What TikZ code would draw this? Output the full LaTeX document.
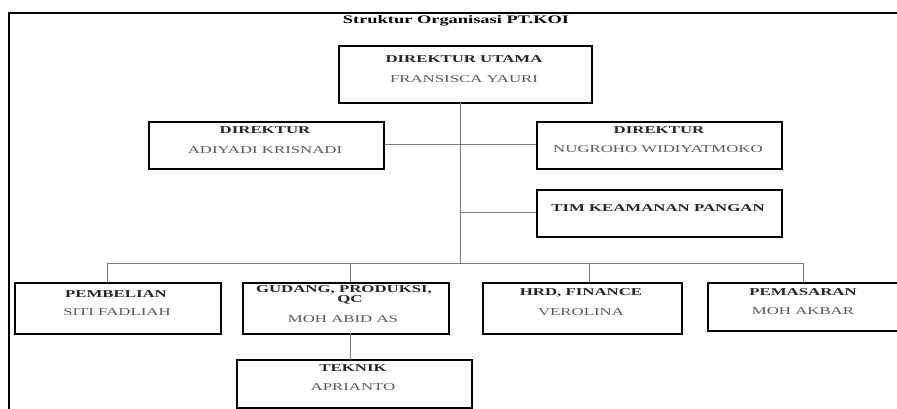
\documentclass[tikz,border=0pt]{standalone}
\usepackage{fontspec}
\newfontfamily\orgfont[FakeStretch=1.6]{Liberation Serif}
\definecolor{namegray}{HTML}{5A5A5A}
\definecolor{linegray}{HTML}{7A7A7A}
\tikzset{
  orgbox/.style={draw=black, line width=2pt, fill=white, anchor=north west, inner sep=0pt},
  headtxt/.style={font=\orgfont\fontsize{10.5}{12}\selectfont\bfseries, text=black!85, inner sep=0pt},
  nametxt/.style={font=\orgfont\fontsize{10.5}{12}\selectfont, text=namegray, inner sep=0pt},
  conn/.style={draw=linegray, line width=1pt},
}
\begin{document}
\begin{tikzpicture}[x=1pt,y=-1pt]
\useasboundingbox (0,0) rectangle (897,409);
\clip (0,0) rectangle (897,409);
\fill[white] (0,0) rectangle (897,409);
% outer frame (cropped at right and bottom)
\draw[line width=2pt] (9,430) -- (9,13) -- (920,13);
% title
\node[font=\orgfont\fontsize{11.5}{13}\selectfont\bfseries, inner sep=0pt] (title) at (456,21) {Struktur Organisasi PT.KOI};

\coordinate (trunktop) at (460,102);
\coordinate (trunk) at (460,263);
\coordinate (busL) at (107,263);
\coordinate (busR) at (803,263);

% boxes
\node[orgbox, minimum width=253pt, minimum height=57pt] (du) at (338,45) {};
\node[orgbox, minimum width=235pt, minimum height=47pt] (dl) at (148,121) {};
\node[orgbox, minimum width=245pt, minimum height=47pt] (dr) at (536,121) {};
\node[orgbox, minimum width=245pt, minimum height=47pt] (tim) at (536,189) {};
\node[orgbox, minimum width=206pt, minimum height=51pt] (pb) at (14,282) {};
\node[orgbox, minimum width=206pt, minimum height=51pt] (gd) at (242,282) {};
\node[orgbox, minimum width=199pt, minimum height=51pt] (hrd) at (482,282) {};
\node[orgbox, minimum width=193pt, minimum height=48pt] (pm) at (707,282) {};
\node[orgbox, minimum width=235pt, minimum height=48pt] (tk) at (236,359) {};

% connectors
\draw[conn] (trunktop) -- (trunk);
\draw[conn] (dl.east |- 0,145) -- (dr.west |- 0,145);
\draw[conn] (trunk |- 0,212) -- (tim.west |- 0,212);
\draw[conn] (busL) -- (busR);
\draw[conn] (busL) -- (busL |- pb.north);
\draw[conn] (350,263) -- (350,282);
\draw[conn] (589,263) -- (589,282);
\draw[conn] (busR) -- (busR |- pm.north);
\draw[conn] (350,333) -- (350,359);

% texts
\node[headtxt] (duh) at (464,59) {DIREKTUR UTAMA};
\node[nametxt] (dun) at (464,79) {FRANSISCA YAURI};
\node[headtxt] (dlh) at (265,130) {DIREKTUR};
\node[nametxt] (dln) at (265,150) {ADIYADI KRISNADI};
\node[headtxt] (drh) at (659,130) {DIREKTUR};
\node[nametxt] (drn) at (658,149) {NUGROHO WIDIYATMOKO};
\node[headtxt] (timh) at (658,208) {TIM KEAMANAN PANGAN};
\node[headtxt] (pbh) at (116,294) {PEMBELIAN};
\node[nametxt] (pbn) at (117,312) {SITI FADLIAH};
\node[headtxt] (gdh) at (344,290) {GUDANG, PRODUKSI,};
\node[headtxt] (gdq) at (350,300) {QC};
\node[nametxt] (gdn) at (343,319) {MOH ABID AS};
\node[headtxt] (hrdh) at (581,293) {HRD, FINANCE};
\node[nametxt] (hrdn) at (581,312) {VEROLINA};
\node[headtxt] (pmh) at (803,292) {PEMASARAN};
\node[nametxt] (pmn) at (803,311) {MOH AKBAR};
\node[headtxt] (tkh) at (353,368) {TEKNIK};
\node[nametxt] (tkn) at (353,387) {APRIANTO};
\end{tikzpicture}
\end{document}
